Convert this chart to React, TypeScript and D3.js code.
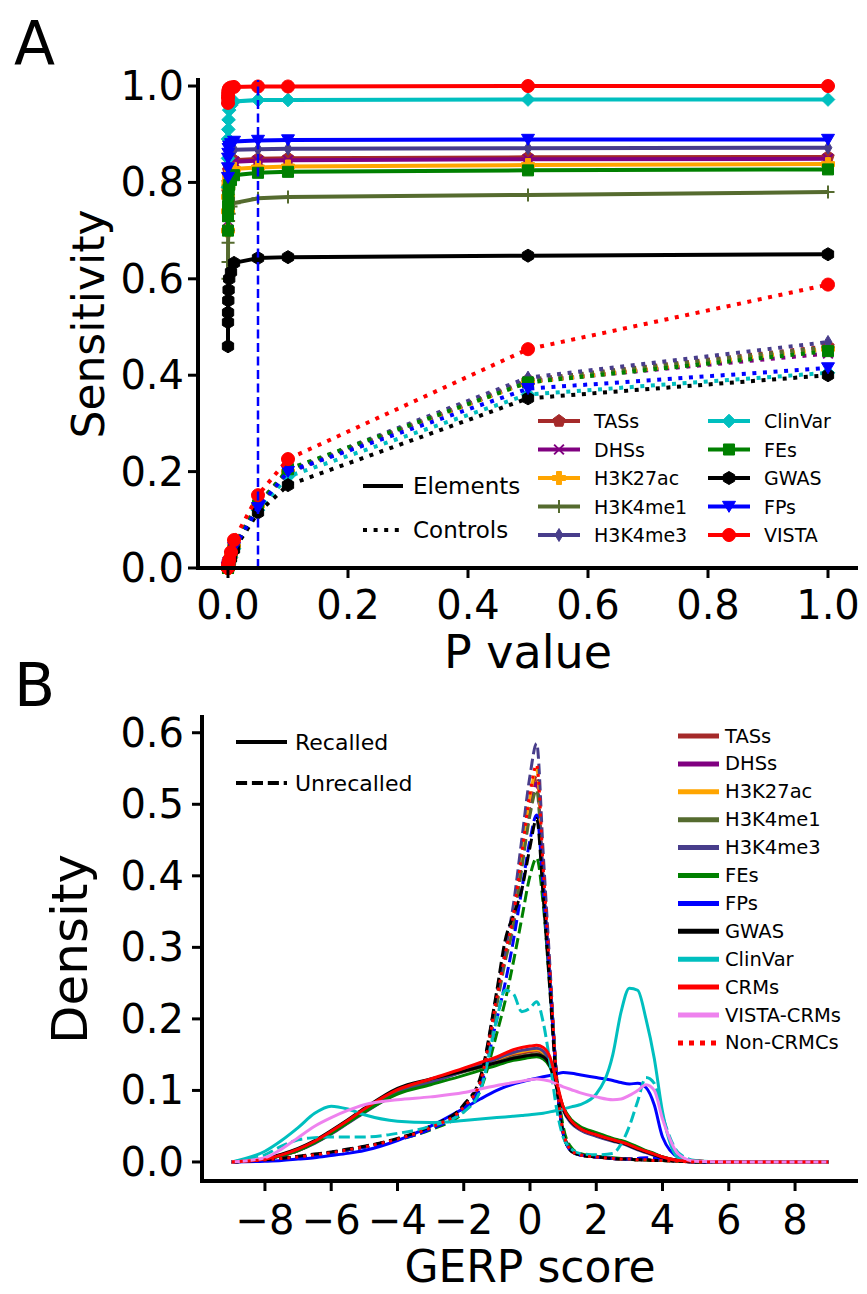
import React, { useEffect, useRef } from 'react'
import * as d3 from 'd3'

// ---------- panel A: sensitivity vs P value ----------
const pValues = [1e-6, 1e-5, 1e-4, 5e-4, 0.001, 0.002, 0.005, 0.01, 0.05, 0.1, 0.5, 1.0]
const pTicks = [0, 0.2, 0.4, 0.6, 0.8, 1.0]
const sensTicks = [0, 0.2, 0.4, 0.6, 0.8, 1.0]
const pCutoff = 0.05

const seriesA = ['TASs', 'DHSs', 'H3K27ac', 'H3K4me1', 'H3K4me3', 'ClinVar', 'FEs', 'GWAS', 'FPs', 'VISTA']

const elemTASs = [0.74, 0.78, 0.8, 0.815, 0.825, 0.833, 0.84, 0.846, 0.849, 0.85, 0.852, 0.853]
const elemDHSs = [0.72, 0.76, 0.79, 0.81, 0.82, 0.83, 0.838, 0.843, 0.845, 0.846, 0.848, 0.849]
const elemH3K27ac = [0.7, 0.74, 0.77, 0.79, 0.8, 0.81, 0.82, 0.828, 0.831, 0.833, 0.836, 0.838]
const elemH3K4me1 = [0.6, 0.635, 0.675, 0.7, 0.72, 0.735, 0.75, 0.757, 0.767, 0.77, 0.774, 0.78]
const elemH3K4me3 = [0.79, 0.81, 0.83, 0.845, 0.855, 0.86, 0.865, 0.868, 0.869, 0.87, 0.871, 0.872]
const elemClinVar = [0.79, 0.85, 0.89, 0.91, 0.93, 0.95, 0.96, 0.968, 0.971, 0.971, 0.972, 0.972]
const elemFEs = [0.7, 0.73, 0.75, 0.77, 0.785, 0.795, 0.805, 0.815, 0.82, 0.822, 0.825, 0.827]
const elemGWAS = [0.46, 0.51, 0.53, 0.555, 0.577, 0.6, 0.614, 0.633, 0.643, 0.645, 0.648, 0.651]
const elemFPs = [0.81, 0.83, 0.85, 0.86, 0.87, 0.875, 0.88, 0.885, 0.887, 0.888, 0.889, 0.889]
const elemVISTA = [0.965, 0.975, 0.982, 0.988, 0.992, 0.995, 0.997, 0.998, 0.999, 0.999, 1.0, 1.0]

const ctrlTASs = [0, 0, 0.001, 0.004, 0.008, 0.012, 0.025, 0.045, 0.13, 0.2, 0.39, 0.46]
const ctrlDHSs = [0, 0, 0.001, 0.004, 0.008, 0.012, 0.024, 0.044, 0.128, 0.198, 0.387, 0.445]
const ctrlH3K27ac = [0, 0, 0.001, 0.004, 0.008, 0.012, 0.025, 0.045, 0.13, 0.2, 0.385, 0.455]
const ctrlH3K4me1 = [0, 0, 0.001, 0.004, 0.008, 0.012, 0.025, 0.046, 0.132, 0.2, 0.39, 0.458]
const ctrlH3K4me3 = [0, 0, 0.001, 0.004, 0.008, 0.013, 0.026, 0.046, 0.133, 0.202, 0.395, 0.469]
const ctrlClinVar = [0, 0, 0.001, 0.003, 0.007, 0.011, 0.022, 0.04, 0.12, 0.19, 0.36, 0.405]
const ctrlFEs = [0, 0, 0.001, 0.004, 0.008, 0.012, 0.025, 0.045, 0.13, 0.205, 0.385, 0.45]
const ctrlGWAS = [0, 0, 0.001, 0.003, 0.006, 0.01, 0.02, 0.038, 0.115, 0.172, 0.352, 0.4]
const ctrlFPs = [0, 0, 0.001, 0.004, 0.007, 0.011, 0.023, 0.042, 0.125, 0.2, 0.372, 0.415]
const ctrlVISTA = [0, 0.001, 0.003, 0.008, 0.012, 0.017, 0.033, 0.058, 0.151, 0.226, 0.454, 0.588]

const elemA = [elemTASs, elemDHSs, elemH3K27ac, elemH3K4me1, elemH3K4me3, elemClinVar, elemFEs, elemGWAS, elemFPs, elemVISTA]
const ctrlA = [ctrlTASs, ctrlDHSs, ctrlH3K27ac, ctrlH3K4me1, ctrlH3K4me3, ctrlClinVar, ctrlFEs, ctrlGWAS, ctrlFPs, ctrlVISTA]

// ---------- panel B: GERP score densities ----------
const gerp = [-9, -8, -7.5, -7, -6.5, -6, -5.5, -5, -4, -3, -2, -1.5, -1, -0.75, -0.5, -0.25, 0, 0.2, 0.4, 0.6, 0.8, 1, 1.25, 1.5, 2, 2.5, 2.75, 3, 3.25, 3.5, 3.75, 4, 4.5, 5, 6, 9]
const gerpTicks = [-8, -6, -4, -2, 0, 2, 4, 6, 8]
const densTicks = [0, 0.1, 0.2, 0.3, 0.4, 0.5, 0.6]

const seriesB = ['TASs', 'DHSs', 'H3K27ac', 'H3K4me1', 'H3K4me3', 'FEs', 'FPs', 'GWAS', 'ClinVar', 'CRMs', 'VISTA-CRMs', 'Non-CRMCs']

const recTASs = [0, 0.004, 0.009, 0.016, 0.027, 0.041, 0.056, 0.071, 0.098, 0.113, 0.127, 0.134, 0.142, 0.146, 0.15, 0.152, 0.154, 0.155, 0.151, 0.138, 0.108, 0.075, 0.056, 0.047, 0.038, 0.031, 0.028, 0.024, 0.019, 0.015, 0.011, 0.007, 0.002, 0.001, 0, 0]
const recDHSs = [0, 0.004, 0.009, 0.016, 0.027, 0.04, 0.055, 0.07, 0.097, 0.112, 0.128, 0.136, 0.144, 0.149, 0.153, 0.155, 0.157, 0.158, 0.154, 0.14, 0.108, 0.074, 0.055, 0.046, 0.037, 0.03, 0.027, 0.023, 0.018, 0.014, 0.01, 0.006, 0.002, 0.001, 0, 0]
const recH3K27ac = [0, 0.004, 0.009, 0.016, 0.027, 0.04, 0.055, 0.07, 0.097, 0.112, 0.127, 0.135, 0.143, 0.148, 0.152, 0.154, 0.156, 0.157, 0.153, 0.139, 0.107, 0.074, 0.055, 0.046, 0.037, 0.03, 0.027, 0.023, 0.018, 0.014, 0.01, 0.006, 0.002, 0.001, 0, 0]
const recH3K4me1 = [0, 0.004, 0.009, 0.017, 0.028, 0.042, 0.057, 0.072, 0.099, 0.113, 0.126, 0.132, 0.139, 0.143, 0.146, 0.148, 0.15, 0.151, 0.148, 0.136, 0.108, 0.077, 0.058, 0.049, 0.04, 0.032, 0.029, 0.025, 0.02, 0.015, 0.011, 0.007, 0.002, 0.001, 0, 0]
const recH3K4me3 = [0, 0.004, 0.009, 0.016, 0.026, 0.039, 0.054, 0.069, 0.096, 0.111, 0.127, 0.135, 0.144, 0.149, 0.153, 0.156, 0.158, 0.159, 0.155, 0.141, 0.108, 0.073, 0.054, 0.045, 0.036, 0.029, 0.026, 0.022, 0.017, 0.013, 0.009, 0.005, 0.002, 0.001, 0, 0]
const recFEs = [0, 0.004, 0.009, 0.016, 0.027, 0.04, 0.055, 0.07, 0.095, 0.108, 0.121, 0.128, 0.135, 0.139, 0.142, 0.144, 0.146, 0.147, 0.144, 0.133, 0.106, 0.077, 0.059, 0.05, 0.041, 0.033, 0.03, 0.026, 0.021, 0.016, 0.012, 0.007, 0.002, 0.001, 0, 0]
const recFPs = [0, 0.001, 0.002, 0.004, 0.006, 0.009, 0.012, 0.016, 0.03, 0.05, 0.075, 0.088, 0.1, 0.105, 0.109, 0.112, 0.115, 0.117, 0.119, 0.121, 0.123, 0.125, 0.124, 0.122, 0.118, 0.114, 0.111, 0.109, 0.11, 0.104, 0.08, 0.035, 0.006, 0.001, 0, 0]
const recGWAS = [0, 0.005, 0.011, 0.019, 0.03, 0.044, 0.059, 0.075, 0.103, 0.116, 0.127, 0.133, 0.139, 0.142, 0.145, 0.147, 0.149, 0.15, 0.147, 0.135, 0.105, 0.074, 0.056, 0.047, 0.038, 0.03, 0.027, 0.023, 0.018, 0.014, 0.01, 0.006, 0.002, 0.001, 0, 0]
const recClinVar = [0, 0.015, 0.03, 0.048, 0.068, 0.078, 0.074, 0.066, 0.057, 0.055, 0.058, 0.06, 0.062, 0.063, 0.064, 0.065, 0.066, 0.067, 0.068, 0.07, 0.072, 0.074, 0.077, 0.08, 0.095, 0.15, 0.21, 0.243, 0.24, 0.2, 0.145, 0.07, 0.005, 0.001, 0, 0]
const recCRMs = [0, 0.004, 0.01, 0.018, 0.029, 0.043, 0.058, 0.074, 0.101, 0.116, 0.131, 0.139, 0.147, 0.152, 0.157, 0.16, 0.162, 0.163, 0.16, 0.147, 0.113, 0.077, 0.057, 0.047, 0.038, 0.031, 0.028, 0.024, 0.019, 0.015, 0.011, 0.007, 0.002, 0.001, 0, 0]
const recVISTACRMs = [0, 0.006, 0.018, 0.034, 0.05, 0.062, 0.072, 0.08, 0.087, 0.091, 0.097, 0.102, 0.107, 0.109, 0.111, 0.113, 0.115, 0.116, 0.115, 0.113, 0.109, 0.105, 0.101, 0.097, 0.091, 0.087, 0.088, 0.093, 0.1, 0.108, 0.1, 0.06, 0.01, 0.001, 0, 0]

const unTASs = [0, 0.003, 0.005, 0.007, 0.01, 0.013, 0.017, 0.021, 0.032, 0.048, 0.077, 0.112, 0.23, 0.29, 0.34, 0.42, 0.5, 0.54, 0.4, 0.26, 0.12, 0.042, 0.016, 0.01, 0.007, 0.005, 0.004, 0.004, 0.003, 0.003, 0.002, 0.002, 0.001, 0, 0, 0]
const unDHSs = [0, 0.003, 0.005, 0.007, 0.01, 0.013, 0.017, 0.021, 0.032, 0.048, 0.077, 0.11, 0.225, 0.285, 0.335, 0.415, 0.49, 0.53, 0.395, 0.26, 0.12, 0.043, 0.017, 0.01, 0.007, 0.005, 0.004, 0.004, 0.003, 0.003, 0.002, 0.002, 0.001, 0, 0, 0]
const unH3K27ac = [0, 0.003, 0.005, 0.007, 0.01, 0.013, 0.017, 0.021, 0.032, 0.048, 0.077, 0.113, 0.23, 0.29, 0.345, 0.43, 0.51, 0.55, 0.41, 0.265, 0.12, 0.042, 0.016, 0.01, 0.007, 0.005, 0.004, 0.004, 0.003, 0.003, 0.002, 0.002, 0.001, 0, 0, 0]
const unH3K4me1 = [0, 0.003, 0.005, 0.007, 0.01, 0.013, 0.017, 0.021, 0.032, 0.048, 0.076, 0.11, 0.22, 0.28, 0.33, 0.41, 0.485, 0.52, 0.39, 0.255, 0.12, 0.043, 0.017, 0.01, 0.007, 0.005, 0.004, 0.004, 0.003, 0.003, 0.002, 0.002, 0.001, 0, 0, 0]
const unH3K4me3 = [0, 0.003, 0.005, 0.007, 0.01, 0.013, 0.017, 0.021, 0.032, 0.048, 0.078, 0.115, 0.235, 0.295, 0.36, 0.45, 0.54, 0.585, 0.43, 0.275, 0.12, 0.04, 0.015, 0.01, 0.007, 0.005, 0.004, 0.004, 0.003, 0.003, 0.002, 0.002, 0.001, 0, 0, 0]
const unFEs = [0, 0.003, 0.005, 0.007, 0.01, 0.013, 0.017, 0.021, 0.031, 0.045, 0.07, 0.1, 0.18, 0.225, 0.28, 0.34, 0.4, 0.425, 0.36, 0.245, 0.12, 0.05, 0.02, 0.012, 0.008, 0.006, 0.005, 0.004, 0.003, 0.003, 0.002, 0.002, 0.001, 0, 0, 0]
const unFPs = [0, 0.003, 0.005, 0.007, 0.01, 0.013, 0.017, 0.021, 0.031, 0.046, 0.074, 0.105, 0.2, 0.25, 0.31, 0.38, 0.45, 0.485, 0.38, 0.25, 0.115, 0.04, 0.015, 0.01, 0.007, 0.005, 0.004, 0.004, 0.005, 0.006, 0.005, 0.004, 0.002, 0, 0, 0]
const unGWAS = [0, 0.003, 0.005, 0.008, 0.011, 0.014, 0.018, 0.022, 0.033, 0.05, 0.08, 0.118, 0.24, 0.31, 0.345, 0.38, 0.44, 0.48, 0.37, 0.24, 0.11, 0.04, 0.015, 0.01, 0.007, 0.005, 0.004, 0.004, 0.003, 0.003, 0.002, 0.002, 0.001, 0, 0, 0]
const unClinVar = [0, 0.01, 0.022, 0.031, 0.034, 0.035, 0.035, 0.035, 0.04, 0.05, 0.07, 0.1, 0.2, 0.24, 0.235, 0.21, 0.215, 0.224, 0.195, 0.14, 0.075, 0.035, 0.018, 0.012, 0.01, 0.012, 0.025, 0.05, 0.085, 0.118, 0.11, 0.065, 0.012, 0.002, 0, 0]
const unNonCRMCs = [0, 0.003, 0.005, 0.007, 0.01, 0.013, 0.017, 0.021, 0.032, 0.048, 0.077, 0.112, 0.23, 0.29, 0.345, 0.43, 0.515, 0.555, 0.41, 0.265, 0.12, 0.042, 0.016, 0.01, 0.007, 0.005, 0.004, 0.004, 0.003, 0.003, 0.002, 0.002, 0.001, 0, 0, 0]

const recB = [recTASs, recDHSs, recH3K27ac, recH3K4me1, recH3K4me3, recFEs, recFPs, recGWAS, recClinVar, recCRMs, recVISTACRMs, null]
const unB = [unTASs, unDHSs, unH3K27ac, unH3K4me1, unH3K4me3, unFEs, unFPs, unGWAS, unClinVar, null, null, unNonCRMCs]

// matplotlib-ish colours and markers
const colors: Record<string, string> = {
  TASs: '#a52a2a', DHSs: '#800080', H3K27ac: '#ffa500', H3K4me1: '#556b2f', H3K4me3: '#483d8b',
  ClinVar: '#00bfbf', FEs: '#008000', GWAS: '#000000', FPs: '#0000ff', VISTA: '#ff0000',
  CRMs: '#ff0000', 'VISTA-CRMs': '#ee82ee', 'Non-CRMCs': '#ff0000'
}
const markers: Record<string, string> = {
  TASs: 'p', DHSs: 'x', H3K27ac: 'P', H3K4me1: '+', H3K4me3: 'd',
  ClinVar: 'D', FEs: 's', GWAS: 'h', FPs: 'v', VISTA: 'o'
}

const FONT = 'DejaVu Sans, sans-serif'

function poly(n: number, r: number, rot: number) {
  const pts = d3.range(n).map(i => {
    const a = rot + (i * 2 * Math.PI) / n
    return [r * Math.sin(a), -r * Math.cos(a)]
  })
  return 'M' + pts.map(p => p[0].toFixed(2) + ',' + p[1].toFixed(2)).join('L') + 'Z'
}

function markerPath(m: string, s: number) {
  const r = s / 2
  switch (m) {
    case 'o': return poly(32, r, 0)
    case 's': return `M${-r * 0.85},${-r * 0.85}h${1.7 * r}v${1.7 * r}h${-1.7 * r}Z`
    case 'D': return `M0,${-r * 1.05}L${r * 1.05},0L0,${r * 1.05}L${-r * 1.05},0Z`
    case 'd': return `M0,${-r}L${r * 0.6},0L0,${r}L${-r * 0.6},0Z`
    case 'v': return `M${-r},${-r * 0.8}L${r},${-r * 0.8}L0,${r * 0.9}Z`
    case 'p': return poly(5, r, 0)
    case 'h': return poly(6, r, 0)
    case 'P': {
      const a = r * 0.38
      return `M${-a},${-r}H${a}V${-a}H${r}V${a}H${a}V${r}H${-a}V${a}H${-r}V${-a}H${-a}Z`
    }
    case '+': return `M${-r},0H${r}M0,${-r}V${r}`
    case 'x': return `M${-r * 0.75},${-r * 0.75}L${r * 0.75},${r * 0.75}M${-r * 0.75},${r * 0.75}L${r * 0.75},${-r * 0.75}`
  }
  return ''
}

function drawMarker(g: any, m: string, color: string, x: number, y: number, s: number) {
  const open = m === '+' || m === 'x'
  g.append('path')
    .attr('d', markerPath(m, s))
    .attr('transform', `translate(${x},${y})`)
    .attr('fill', open ? 'none' : color)
    .attr('stroke', color)
    .attr('stroke-width', open ? 2 : 1)
}

function App() {
  const ref = useRef<SVGSVGElement>(null)

  useEffect(() => {
    const svg = d3.select(ref.current)
    svg.selectAll('*').remove()

    // ================= Panel A =================
    const xA = d3.scaleLinear().domain([-0.05, 1.05]).range([198, 858])
    const yA = d3.scaleLinear().domain([0, 1.0125]).range([568, 80])
    const gA = svg.append('g')

    svg.append('text').text('A').attr('x', 14).attr('y', 64)
      .style('font-family', FONT).style('font-size', '60px')

    const lineA = d3.line<number>().x((d, i) => xA(pValues[i])).y(d => yA(d))

    seriesA.forEach((name, k) => {
      const c = colors[name]
      const m = markers[name]
      gA.append('path').datum(elemA[k]).attr('d', lineA)
        .attr('fill', 'none').attr('stroke', c).attr('stroke-width', 4)
      elemA[k].forEach((v, i) => drawMarker(gA, m, c, xA(pValues[i]), yA(v), 13))
      gA.append('path').datum(ctrlA[k]).attr('d', lineA)
        .attr('fill', 'none').attr('stroke', c).attr('stroke-width', 4)
        .attr('stroke-dasharray', '4,6.6')
      ctrlA[k].forEach((v, i) => drawMarker(gA, m, c, xA(pValues[i]), yA(v), 13))
    })

    // p = 0.05 cut-off
    gA.append('line')
      .attr('x1', xA(pCutoff)).attr('x2', xA(pCutoff))
      .attr('y1', yA(0)).attr('y2', yA(1.0125))
      .attr('stroke', '#0000ff').attr('stroke-width', 2.5).attr('stroke-dasharray', '9,4.5')

    // axes
    const axA = svg.append('g')
    axA.append('line').attr('x1', 198).attr('x2', 198).attr('y1', 78).attr('y2', 570)
      .attr('stroke', '#000').attr('stroke-width', 4)
    axA.append('line').attr('x1', 196).attr('x2', 858).attr('y1', 568).attr('y2', 568)
      .attr('stroke', '#000').attr('stroke-width', 4)
    sensTicks.forEach(t => {
      axA.append('line').attr('x1', 188).attr('x2', 198).attr('y1', yA(t)).attr('y2', yA(t))
        .attr('stroke', '#000').attr('stroke-width', 3)
      axA.append('text').text(d3.format('.1f')(t)).attr('x', 184).attr('y', yA(t))
        .attr('text-anchor', 'end').attr('dominant-baseline', 'central')
        .style('font-family', FONT).style('font-size', '40px')
    })
    pTicks.forEach(t => {
      axA.append('line').attr('x1', xA(t)).attr('x2', xA(t)).attr('y1', 568).attr('y2', 578)
        .attr('stroke', '#000').attr('stroke-width', 3)
      axA.append('text').text(d3.format('.1f')(t)).attr('x', xA(t)).attr('y', 605)
        .attr('text-anchor', 'middle').attr('dominant-baseline', 'central')
        .style('font-family', FONT).style('font-size', '40px')
    })
    axA.append('text').text('Sensitivity')
      .attr('transform', `translate(88,${(80 + 568) / 2}) rotate(-90)`)
      .attr('text-anchor', 'middle').attr('dominant-baseline', 'central')
      .style('font-family', FONT).style('font-size', '44px')
    axA.append('text').text('P value').attr('x', 528).attr('y', 652)
      .attr('text-anchor', 'middle').attr('dominant-baseline', 'central')
      .style('font-family', FONT).style('font-size', '46px')

    // legend A: line styles
    const legA = svg.append('g').style('font-family', FONT)
    ;[['Elements', ''], ['Controls', '4,6.6']].forEach((d, i) => {
      const y = 486 + i * 44
      legA.append('line').attr('x1', 363).attr('x2', 403).attr('y1', y).attr('y2', y)
        .attr('stroke', '#000').attr('stroke-width', 4).attr('stroke-dasharray', d[1] || null)
      legA.append('text').text(d[0]).attr('x', 413).attr('y', y)
        .attr('dominant-baseline', 'central').style('font-size', '23px')
    })
    // legend A: series
    seriesA.forEach((name, k) => {
      const col = Math.floor(k / 5)
      const row = k % 5
      const x0 = col === 0 ? 538 : 708
      const y = 421 + row * 28.5
      legA.append('line').attr('x1', x0).attr('x2', x0 + 42).attr('y1', y).attr('y2', y)
        .attr('stroke', colors[name]).attr('stroke-width', 4)
      drawMarker(legA, markers[name], colors[name], x0 + 21, y, 13)
      legA.append('text').text(name).attr('x', x0 + 56).attr('y', y)
        .attr('dominant-baseline', 'central').style('font-size', '19px')
    })

    // ================= Panel B =================
    const xB = d3.scaleLinear().domain([-9.9, 9.9]).range([202, 858])
    const yB = d3.scaleLinear().domain([-0.0266, 0.622]).range([1181, 717])

    svg.append('text').text('B').attr('x', 14).attr('y', 706)
      .style('font-family', FONT).style('font-size', '60px')

    const lineB = d3.line<number>().x((d, i) => xB(gerp[i])).y(d => yB(d)).curve(d3.curveMonotoneX)
    const gB = svg.append('g')

    seriesB.forEach((name, k) => {
      const c = colors[name]
      const rec = recB[k]
      const un = unB[k]
      if (rec) {
        gB.append('path').datum(rec).attr('d', lineB)
          .attr('fill', 'none').attr('stroke', c).attr('stroke-width', 3)
      }
      if (un) {
        gB.append('path').datum(un).attr('d', lineB)
          .attr('fill', 'none').attr('stroke', c).attr('stroke-width', 3)
          .attr('stroke-dasharray', name === 'Non-CRMCs' ? '3,4.95' : '11.1,4.8')
      }
    })

    const axB = svg.append('g')
    axB.append('line').attr('x1', 202).attr('x2', 202).attr('y1', 715).attr('y2', 1183)
      .attr('stroke', '#000').attr('stroke-width', 4)
    axB.append('line').attr('x1', 200).attr('x2', 858).attr('y1', 1181).attr('y2', 1181)
      .attr('stroke', '#000').attr('stroke-width', 4)
    densTicks.forEach(t => {
      axB.append('line').attr('x1', 192).attr('x2', 202).attr('y1', yB(t)).attr('y2', yB(t))
        .attr('stroke', '#000').attr('stroke-width', 3)
      axB.append('text').text(d3.format('.1f')(t)).attr('x', 184).attr('y', yB(t))
        .attr('text-anchor', 'end').attr('dominant-baseline', 'central')
        .style('font-family', FONT).style('font-size', '40px')
    })
    gerpTicks.forEach(t => {
      axB.append('line').attr('x1', xB(t)).attr('x2', xB(t)).attr('y1', 1181).attr('y2', 1191)
        .attr('stroke', '#000').attr('stroke-width', 3)
      axB.append('text').text(t < 0 ? '\u2212' + Math.abs(t) : String(t)).attr('x', xB(t)).attr('y', 1220)
        .attr('text-anchor', 'middle').attr('dominant-baseline', 'central')
        .style('font-family', FONT).style('font-size', '40px')
    })
    axB.append('text').text('Density')
      .attr('transform', `translate(70,${(717 + 1181) / 2}) rotate(-90)`)
      .attr('text-anchor', 'middle').attr('dominant-baseline', 'central')
      .style('font-family', FONT).style('font-size', '50px')
    axB.append('text').text('GERP score').attr('x', 530).attr('y', 1266)
      .attr('text-anchor', 'middle').attr('dominant-baseline', 'central')
      .style('font-family', FONT).style('font-size', '44px')

    const legB = svg.append('g').style('font-family', FONT)
    ;[['Recalled', ''], ['Unrecalled', '11.1,4.8']].forEach((d, i) => {
      const y = 742 + i * 41
      legB.append('line').attr('x1', 236).attr('x2', 287).attr('y1', y).attr('y2', y)
        .attr('stroke', '#000').attr('stroke-width', 4).attr('stroke-dasharray', d[1] || null)
      legB.append('text').text(d[0]).attr('x', 295).attr('y', y)
        .attr('dominant-baseline', 'central').style('font-size', '22px')
    })
    seriesB.forEach((name, k) => {
      const y = 736 + k * 27.9
      legB.append('line').attr('x1', 678).attr('x2', 719).attr('y1', y).attr('y2', y)
        .attr('stroke', colors[name]).attr('stroke-width', 5)
        .attr('stroke-dasharray', name === 'Non-CRMCs' ? '5,6' : null)
      legB.append('text').text(name).attr('x', 725).attr('y', y)
        .attr('dominant-baseline', 'central').style('font-size', '19.5px')
    })
  }, [])

  return (
    <svg ref={ref} width={867} height={1294}
      style={{ position: 'absolute', left: 0, top: 0, background: '#fff' }} />
  )
}

export default App
